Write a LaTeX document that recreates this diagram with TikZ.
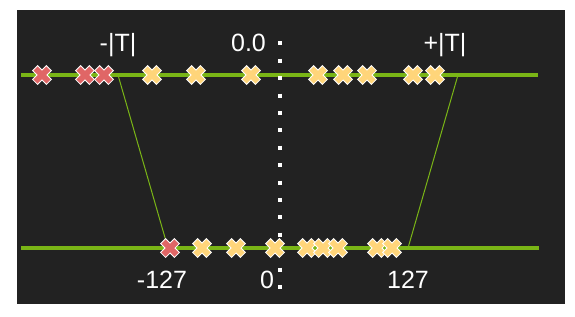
\documentclass[tikz,border=0pt]{standalone}
\usepackage{fontspec}
\setmainfont{Liberation Sans}
\definecolor{bg}{HTML}{222222}
\definecolor{lg}{HTML}{7AB516}
\definecolor{xr}{HTML}{E06666}
\definecolor{xy}{HTML}{FFD57A}
\begin{document}
\begin{tikzpicture}[x=1pt,y=-1pt,
  axisline/.style={lg,line width=4.5pt},
  link/.style={lg,line width=1pt},
  lbl/.style={text=white,font=\fontsize{25}{28}\selectfont,inner sep=0pt,anchor=base},
  pics/xm/.style={code={
    \draw[white,line width=8pt] (-7.2,-7.2)--(7.2,7.2) (-7.2,7.2)--(7.2,-7.2);
    \draw[#1,line width=6pt] (-6.5,-6.5)--(6.5,6.5) (-6.5,6.5)--(6.5,-6.5);
  }}]
\useasboundingbox (0,0) rectangle (575,316);
\fill[white] (0,0) rectangle (575,316);
\fill[bg] (17,10) rectangle (565,304);
% axis lines
\coordinate (tl) at (21,75);
\coordinate (tr) at (538,75);
\coordinate (bl) at (21,248);
\coordinate (br) at (539,248);
\draw[axisline] (tl) -- (tr);
\draw[axisline] (bl) -- (br);
% connectors
\coordinate (ta) at (118,75);
\coordinate (ba) at (168,248);
\coordinate (tb) at (458,75);
\coordinate (bb) at (408,248);
\draw[link] (ta) -- (ba);
\draw[link] (tb) -- (bb);
% dotted zero line
\coordinate (dt) at (280,41.3);
\coordinate (db) at (280,289);
\draw[white,line width=4pt,dash pattern=on 4pt off 13.4pt] (dt) -- (db);
% top crosses
\foreach \x/\c in {42/xr,85/xr,104/xr,152/xy,196/xy,251/xy,318/xy,343/xy,367/xy,413/xy,435/xy}
  \pic at (\x,75) {xm=\c};
% bottom crosses
\foreach \x/\c in {170/xr,202/xy,236/xy,275/xy,307/xy,323/xy,338/xy,377/xy,392/xy}
  \pic at (\x,248) {xm=\c};
% labels
\node[lbl] (lneg) at (118,51) {-|T|};
\node[lbl] (lzero) at (248.5,51) {0.0};
\node[lbl] (lpos) at (445,51) {+|T|};
\node[lbl] (bneg) at (162,288) {-127};
\node[lbl] (bzero) at (267,288) {0};
\node[lbl] (bpos) at (408,288) {127};
\end{tikzpicture}
\end{document}
